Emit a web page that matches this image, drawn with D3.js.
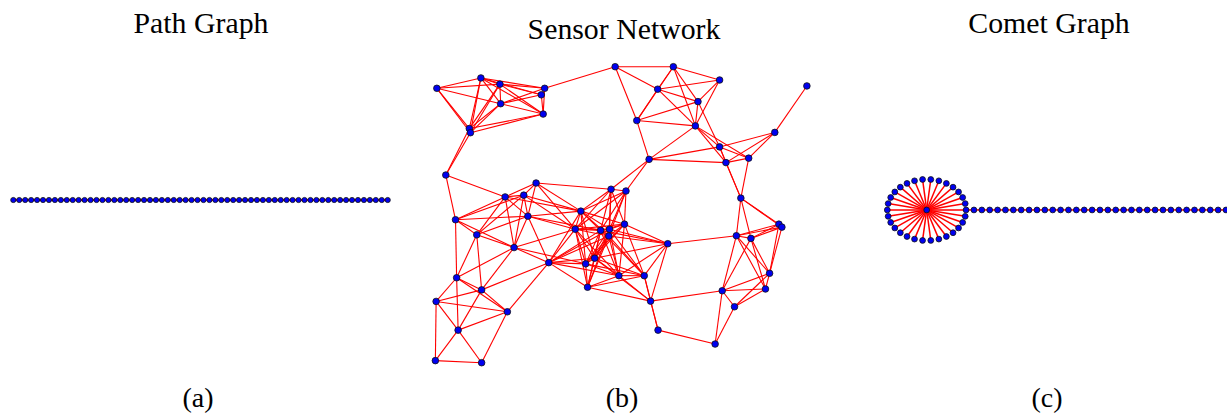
<!DOCTYPE html>
<html>
<head>
<meta charset="utf-8">
<script src="https://cdn.jsdelivr.net/npm/d3@7"></script>
<style>
  body { margin: 0; background: #fff; }
  text { font-family: "Liberation Serif", "Times New Roman", serif; fill: #000; }
</style>
</head>
<body>
<svg id="chart" width="1227" height="414"></svg>
<script>
const panelTitles = ['Path Graph', 'Sensor Network', 'Comet Graph'];
const panelLabels = ['(a)', '(b)', '(c)'];

// path graph: number of vertices
const pathNodeCount = 64;

// comet graph: star leaves + tail
const cometLeafCount = 30;
const cometTailCount = 33;
const cometTailStep = 0.2;

// sensor network: node coordinates (unit square scaled to 0-100)
const sensorX = [0.5, 12.3, 17.4, 29.4, 28.5, 17.6, 29.0, 9.2, 9.5, 2.9,
  48.3, 63.9, 76.3, 59.7, 70.5, 54.1, 69.8, 99.7, 91.1, 76.3, 78.0, 84.1, 57.4,
  27.1, 18.8, 23.8, 24.9, 5.5, 11.2, 21.2, 30.5, 5.8, 12.5, 0.3, 19.4, 6.2, 0.1, 12.5,
  47.2, 51.2, 39.1, 37.6, 44.4, 46.8, 50.8, 46.6, 62.4, 42.8, 40.4, 49.3, 56.1, 40.9, 57.8,
  82.0, 92.2, 93.0, 80.8, 84.7, 89.7, 88.6, 77.0, 80.3, 75.1, 59.8];
const sensorY = [92.7, 96.2, 94.1, 92.7, 90.5, 87.5, 84.0, 79.1, 77.7, 63.4,
  100, 100, 95.5, 92.4, 88.2, 81.8, 80.0, 93.5, 77.8, 72.9, 67.6, 69.1, 68.7,
  60.7, 56.0, 56.6, 49.5, 48.3, 43.2, 38.9, 33.8, 28.7, 24.6, 20.7, 17.2, 11.0, 0.7, 0,
  58.6, 58.0, 51.2, 45.1, 44.7, 45.1, 46.8, 42.8, 40.2, 35.3, 33.4, 29.4, 29.4, 25.5, 20.8,
  55.6, 46.8, 45.8, 42.9, 42.0, 30.2, 24.9, 24.3, 18.9, 6.3, 11.0];
// connection radius in the same units
const sensorRadius = 21.0;

const edgeColor = '#ff0000';
const nodeFill = '#0000f0';
const nodeStroke = '#111';

const svg = d3.select('#chart');

function drawGraph(g, nodes, edges, xScale, yScale, opts) {
  g.append('g').selectAll('line')
    .data(edges)
    .enter().append('line')
    .attr('x1', d => xScale(nodes[d[0]].x))
    .attr('y1', d => yScale(nodes[d[0]].y))
    .attr('x2', d => xScale(nodes[d[1]].x))
    .attr('y2', d => yScale(nodes[d[1]].y))
    .attr('stroke', edgeColor)
    .attr('stroke-width', opts.edgeWidth);

  g.append('g').selectAll('circle')
    .data(nodes)
    .enter().append('circle')
    .attr('cx', d => xScale(d.x))
    .attr('cy', d => yScale(d.y))
    .attr('r', opts.nodeRadius)
    .attr('fill', nodeFill)
    .attr('stroke', nodeStroke)
    .attr('stroke-width', 0.8);
}

// (a) path graph
{
  const nodes = d3.range(pathNodeCount).map(i => ({ x: i, y: 0 }));
  const edges = d3.range(pathNodeCount - 1).map(i => [i, i + 1]);
  const x = d3.scaleLinear().domain([0, pathNodeCount - 1]).range([13.3, 387.7]);
  const y = d3.scaleLinear().domain([-1, 1]).range([230, 170]);
  drawGraph(svg.append('g'), nodes, edges, x, y, { edgeWidth: 2, nodeRadius: 2.6 });
}

// (b) sensor network
{
  const nodes = sensorX.map((v, i) => ({ x: v, y: sensorY[i] }));
  const edges = [];
  for (let i = 0; i < nodes.length; i++) {
    for (let j = i + 1; j < nodes.length; j++) {
      const dx = nodes[i].x - nodes[j].x, dy = nodes[i].y - nodes[j].y;
      if (Math.hypot(dx, dy) <= sensorRadius) edges.push([i, j]);
    }
  }
  const x = d3.scaleLinear().domain([0, 100]).range([435, 808]);
  const y = d3.scaleLinear().domain([0, 100]).range([362.7, 66.7]);
  drawGraph(svg.append('g'), nodes, edges, x, y, { edgeWidth: 1.1, nodeRadius: 3.3 });
}

// (c) comet graph
{
  const nodes = [{ x: 0, y: 0 }];
  d3.range(cometLeafCount).forEach(k => {
    const a = 2 * Math.PI * k / cometLeafCount;
    nodes.push({ x: Math.cos(a), y: Math.sin(a) });
  });
  d3.range(cometTailCount).forEach(k => nodes.push({ x: 1 + cometTailStep * (k + 1), y: 0 }));
  const edges = d3.range(cometLeafCount).map(k => [0, k + 1]);
  edges.push([1, cometLeafCount + 1]);
  d3.range(cometTailCount - 1).forEach(k => edges.push([cometLeafCount + 1 + k, cometLeafCount + 2 + k]));
  const xMax = 1 + cometTailStep * cometTailCount;
  const x = d3.scaleLinear().domain([-1, xMax]).range([887.3, 1226]);
  const y = d3.scaleLinear().domain([-1, 1]).range([240.6, 179.3]);
  drawGraph(svg.append('g'), nodes, edges, x, y, { edgeWidth: 1.5, nodeRadius: 2.9 });
}

// titles and sub-labels
const titlePos = [[201, 33], [624, 38.5], [1049, 33]];
const labelX = [198, 622, 1047];
svg.selectAll('.title')
  .data(panelTitles)
  .enter().append('text')
  .attr('class', 'title')
  .attr('x', (d, i) => titlePos[i][0])
  .attr('y', (d, i) => titlePos[i][1])
  .attr('text-anchor', 'middle')
  .style('font-size', '29.8px')
  .text(d => d);

svg.selectAll('.sublabel')
  .data(panelLabels)
  .enter().append('text')
  .attr('class', 'sublabel')
  .attr('x', (d, i) => labelX[i])
  .attr('y', 407)
  .attr('text-anchor', 'middle')
  .style('font-size', '28px')
  .text(d => d);
</script>
</body>
</html>
